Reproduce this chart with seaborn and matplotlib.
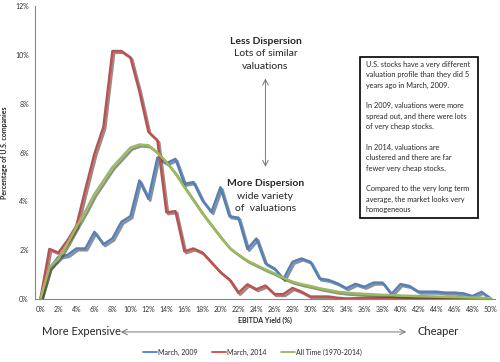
import numpy as np
import pandas as pd
import matplotlib.pyplot as plt
import matplotlib.patheffects as pe
import seaborn as sns
from matplotlib.lines import Line2D
from matplotlib.patches import Rectangle

# EBITDA yield buckets, 0% .. 50%
yield_pct = list(range(0, 51))

# share of US companies in each bucket (%)
march_2009 = [0.0, 1.25, 1.73, 1.8, 2.07, 2.07, 2.75, 2.24, 2.48, 3.16,
              3.39, 4.86, 4.1, 5.8, 5.56, 5.74, 4.72, 4.79, 4.04, 3.56,
              4.58, 3.39, 3.33, 2.05, 2.48, 1.46, 1.25, 0.82, 1.52, 1.66,
              1.52, 0.84, 0.78, 0.64, 0.44, 0.62, 0.5, 0.67, 0.67, 0.2,
              0.61, 0.53, 0.3, 0.3, 0.3, 0.26, 0.26, 0.23, 0.12, 0.29, 0.03]
march_2014 = [0.0, 2.05, 1.9, 2.4, 3.0, 4.5, 5.95, 7.05, 10.16, 10.16,
              9.9, 8.5, 6.85, 6.5, 3.55, 3.6, 1.95, 2.07, 1.9, 1.5,
              1.1, 0.8, 0.25, 0.6, 0.4, 0.55, 0.2, 0.2, 0.45, 0.3,
              0.1, 0.1, 0.1, 0.05, 0.02, 0.03, 0.04, 0.05, 0.05, 0.06,
              0.04, 0.03, 0.02, 0.02, 0.02, 0.02, 0.01, 0.01, 0.01, 0.01, 0.0]
all_time = [0.0, 1.3, 1.65, 2.27, 2.95, 3.6, 4.3, 4.85, 5.4, 5.8,
            6.2, 6.33, 6.3, 6.0, 5.6, 5.14, 4.58, 4.04, 3.5, 3.02,
            2.54, 2.1, 1.82, 1.57, 1.39, 1.21, 1.05, 0.86, 0.71, 0.61,
            0.53, 0.44, 0.37, 0.3, 0.26, 0.23, 0.21, 0.19, 0.17, 0.16,
            0.14, 0.13, 0.12, 0.11, 0.1, 0.09, 0.08, 0.07, 0.06, 0.05, 0.03]

series_names = ['March, 2009', 'March, 2014', 'All Time (1970-2014)']
colors = ['#4F81BD', '#C0504D', '#9BBB59']

df = pd.DataFrame({
    'yield': yield_pct * 3,
    'share': march_2009 + march_2014 + all_time,
    'series': np.repeat(series_names, len(yield_pct)),
})

sns.set_style('white')
plt.rcParams['font.family'] = ['Lato', 'DejaVu Sans']

fig = plt.figure(figsize=(5, 3.62), dpi=100)
ax = fig.add_axes([0.07, 0.174, 0.92, 0.809])

sns.lineplot(data=df, x='yield', y='share', hue='series', palette=colors,
             linewidth=1.8, ax=ax, legend=False)

# excel-ish drop shadow under the lines
for line in ax.get_lines():
    line.set_path_effects([pe.SimpleLineShadow(offset=(1.3, -1.3), shadow_color='#444444', alpha=0.6),
                           pe.Normal()])

ax.set_xlim(-0.6, 50.5)
ax.set_ylim(0, 12)
ax.set_xticks(range(0, 51, 2))
ax.set_xticklabels([f'{v}%' for v in range(0, 51, 2)], fontsize=5, color='#333333')
ax.set_xticks(np.arange(-0.5, 51, 1), minor=True)
ax.set_yticks(range(0, 13, 2))
ax.set_yticklabels([f'{v}%' for v in range(0, 13, 2)], fontsize=5, color='#333333')
ax.tick_params(axis='x', which='major', length=0, pad=5)
ax.tick_params(axis='x', which='minor', length=2.5, width=0.6, color='#868686', direction='out')
ax.tick_params(axis='y', length=2.5, width=0.6, color='#868686', direction='out', pad=2)
for side in ['top', 'right']:
    ax.spines[side].set_visible(False)
for side in ['left', 'bottom']:
    ax.spines[side].set_color('#868686')
    ax.spines[side].set_linewidth(0.8)

ax.set_xlabel('EBITDA Yield (%)', fontsize=5, fontweight='bold', labelpad=3)
ax.set_ylabel('Percentage of U.S. companies', fontsize=5, fontweight='bold', labelpad=5)

# dispersion annotations
ax.text(25, 10.55, 'Less Dispersion', ha='center', va='center', fontsize=7.5, fontweight='bold')
ax.text(25, 10.05, 'Lots of similar', ha='center', va='center', fontsize=7.5)
ax.text(25, 9.53, 'valuations', ha='center', va='center', fontsize=7.5)
ax.annotate('', xy=(25, 9.15), xytext=(25, 5.3),
            arrowprops=dict(arrowstyle='<->', color='#777777', lw=0.7))
ax.text(25, 4.75, 'More Dispersion', ha='center', va='center', fontsize=7.5, fontweight='bold')
ax.text(25, 4.22, 'wide variety', ha='center', va='center', fontsize=7.5)
ax.text(25, 3.7, 'of  valuations', ha='center', va='center', fontsize=7.5)

# commentary box
box_text = ('U.S. stocks have a very different\nvaluation profile than they did 5\nyears ago in March, 2009.\n\n'
            'In 2009, valuations were more\nspread out, and there were lots\nof very cheap stocks.\n\n'
            'In 2014, valuations are\nclustered and there are far\nfewer very cheap stocks.\n\n'
            'Compared to the very long term\naverage, the market looks very\nhomogeneous')
fig.patches.append(Rectangle((0.72, 0.398), 0.236, 0.4445, transform=fig.transFigure,
                             fc='white', ec='black', lw=1.2, zorder=5))
fig.text(0.731, 0.832, box_text, ha='left', va='top', fontsize=5.35, linespacing=1.56, zorder=6)

# cheap / expensive arrow under the axis
fig.text(0.084, 0.083, 'More Expensive', ha='left', va='center', fontsize=8)
fig.text(0.836, 0.083, 'Cheaper', ha='left', va='center', fontsize=8)
ax.annotate('', xy=(0.236, 0.083), xytext=(0.818, 0.083), xycoords='figure fraction',
            arrowprops=dict(arrowstyle='<->', color='#777777', lw=0.7))

# legend
handles = [Line2D([], [], color=c, lw=1.3) for c in colors]
fig.legend(handles, series_names, loc='center', bbox_to_anchor=(0.505, 0.027), ncol=3,
           frameon=False, fontsize=5, handlelength=2.0, handletextpad=0.2, columnspacing=2.0)

fig.savefig('out.png', dpi=100)
